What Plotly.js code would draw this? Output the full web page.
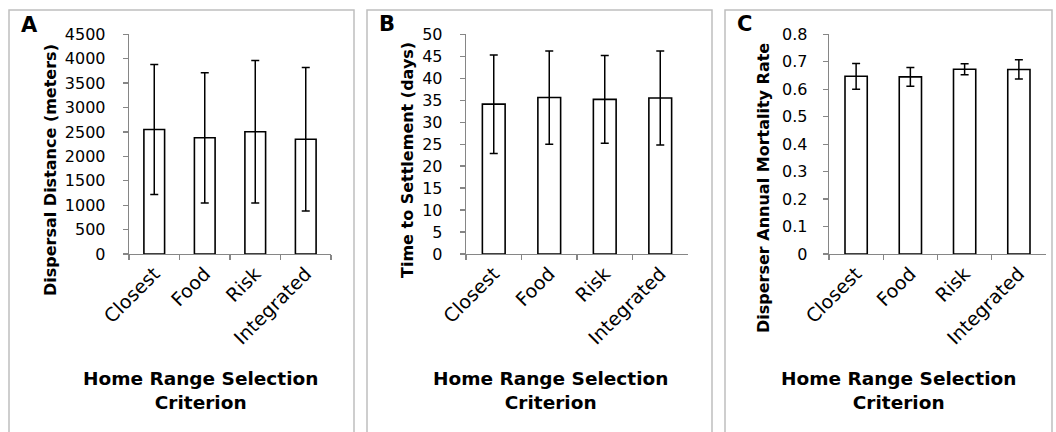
<!DOCTYPE html>
<html>
<head>
<meta charset="utf-8">
<script src="https://cdn.plot.ly/plotly-3.0.1.min.js"></script>
<style>html,body{margin:0;padding:0;background:#fff;}#chart{width:1056px;height:432px;}</style>
</head>
<body>
<div id="chart"></div>
<script>
// ---- data ----
const categories = ["Closest", "Food", "Risk", "Integrated"];

const distanceMean = [2550, 2380, 2505, 2350];
const distanceErr  = [1330, 1335, 1460, 1470];

const settleMean = [34.1, 35.6, 35.2, 35.5];
const settleErr  = [11.2, 10.6, 10.0, 10.7];

const mortalityMean = [0.647, 0.645, 0.673, 0.672];
const mortalityErr  = [0.047, 0.034, 0.020, 0.035];

const panelLetters = ["A", "B", "C"];
const yTitles = ["Dispersal Distance (meters)", "Time to Settlement (days)", "Disperser Annual Mortality Rate"];
const xTitle = "Home Range Selection<br>Criterion";

// ---- layout helpers ----
const W = 1056, H = 432;
const px = x => x / W;
const py = y => 1 - y / H;
const FONT = "DejaVu Sans, Liberation Sans, Arial, sans-serif";

function barTrace(means, errs, xa, ya) {
  return {
    type: "bar", x: categories, y: means, xaxis: xa, yaxis: ya,
    marker: {color: "#ffffff", line: {color: "#000000", width: 1.6}},
    error_y: {type: "data", array: errs, visible: true, color: "#000000", thickness: 1.5, width: 4},
    hoverinfo: "none", showlegend: false
  };
}

const data = [
  barTrace(distanceMean, distanceErr, "x", "y"),
  barTrace(settleMean, settleErr, "x2", "y2"),
  barTrace(mortalityMean, mortalityErr, "x3", "y3")
];

const yDom = [py(254), py(34.3)];
function xAxis(x0, x1, anchor) {
  return {
    domain: [px(x0), px(x1)], anchor: anchor, type: "category",
    showline: true, linecolor: "#868686", linewidth: 1.3,
    ticks: "outside", tickson: "boundaries", ticklen: 5, tickcolor: "#868686", tickwidth: 1.3,
    tickangle: -45, tickfont: {family: FONT, size: 19, color: "#000"},
    showgrid: false, zeroline: false, fixedrange: true
  };
}
function yAxis(range, dtick, anchor, standoff) {
  return {
    domain: yDom, anchor: anchor, range: range, dtick: dtick, tick0: 0,
    showline: true, linecolor: "#868686", linewidth: 1.3,
    ticks: "outside", ticklen: 5, tickcolor: "#868686", tickwidth: 1.3,
    ticklabelstandoff: standoff,
    tickfont: {family: FONT, size: 16, color: "#000"},
    showgrid: false, zeroline: false, fixedrange: true
  };
}

const boxes = [[9, 354], [367, 712], [725, 1052]].map(b => ({
  type: "rect", xref: "paper", yref: "paper",
  x0: px(b[0]), x1: px(b[1]), y0: py(445), y1: py(10),
  line: {color: "#bfbfbf", width: 1.5}, fillcolor: "rgba(0,0,0,0)", layer: "below"
}));

const letterPos = [[29, 25], [387, 24], [744, 24]];
const yTitlePos = [[50, 170], [407, 160], [764, 188]];
const xTitlePos = [[200, 390], [550, 390], [898, 390]];

const annotations = [];
for (let i = 0; i < 3; i++) {
  annotations.push({
    text: "<b>" + panelLetters[i] + "</b>", xref: "paper", yref: "paper",
    x: px(letterPos[i][0]), y: py(letterPos[i][1]), xanchor: "center", yanchor: "middle",
    showarrow: false, font: {family: FONT, size: 21, color: "#000"}
  });
  annotations.push({
    text: "<b>" + yTitles[i] + "</b>", xref: "paper", yref: "paper", textangle: -90,
    x: px(yTitlePos[i][0]), y: py(yTitlePos[i][1]), xanchor: "center", yanchor: "middle",
    showarrow: false, font: {family: FONT, size: 16, color: "#000"}
  });
  annotations.push({
    text: "<b>" + xTitle + "</b>", xref: "paper", yref: "paper",
    x: px(xTitlePos[i][0]), y: py(xTitlePos[i][1]), xanchor: "center", yanchor: "middle",
    showarrow: false, align: "center", font: {family: FONT, size: 18.5, color: "#000"}
  });
}

const layout = {
  width: W, height: H, margin: {l: 0, r: 0, t: 0, b: 0},
  paper_bgcolor: "#ffffff", plot_bgcolor: "rgba(0,0,0,0)",
  bargap: 0.59, showlegend: false,
  xaxis: xAxis(129, 331, "y"),
  xaxis2: xAxis(466, 688, "y2"),
  xaxis3: xAxis(829, 1046, "y3"),
  yaxis: yAxis([0, 4500], 500, "x", 14),
  yaxis2: yAxis([0, 50], 5, "x2", 14),
  yaxis3: yAxis([0, 0.8], 0.1, "x3", 12),
  shapes: boxes, annotations: annotations
};

Plotly.newPlot("chart", data, layout, {staticPlot: true, displayModeBar: false});
</script>
</body>
</html>
